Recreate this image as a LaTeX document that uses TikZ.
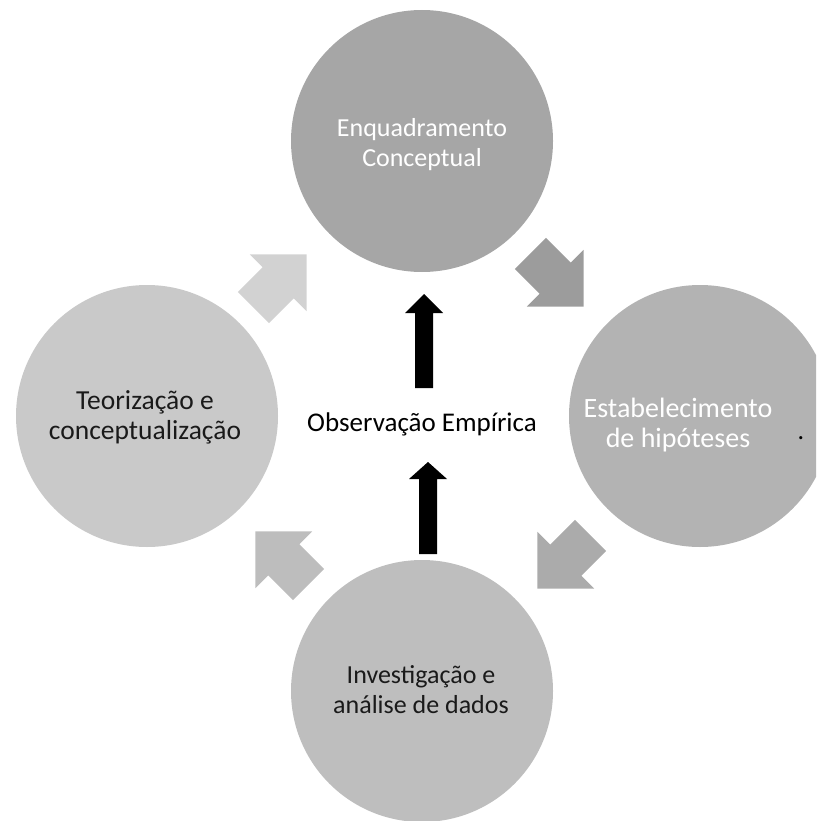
\documentclass[tikz,border=0pt]{standalone}
\usepackage{fontspec}
\setmainfont{Carlito}
\definecolor{cTop}{HTML}{A6A6A6}
\definecolor{cRight}{HTML}{B3B3B3}
\definecolor{cBottom}{HTML}{BEBEBE}
\definecolor{cLeft}{HTML}{C9C9C9}
\definecolor{aTR}{HTML}{9C9C9C}
\definecolor{aBR}{HTML}{ABABAB}
\definecolor{aBL}{HTML}{BDBDBD}
\definecolor{aTL}{HTML}{D2D2D2}
\definecolor{txt}{HTML}{1A1A1A}
\tikzset{
  phase/.style={circle, minimum size=262pt, inner sep=0pt, draw=none},
  lbl/.style={font=\fontsize{26}{30}\selectfont, align=center, inner sep=0pt},
}
\newcommand{\blockarrow}[4]{%
  \begin{scope}[shift={(#1)}, rotate=#2]
    \fill[#3] (-37.5,22) -- (-2.5,22) -- (-2.5,40) -- (37.5,0) -- (-2.5,-40) -- (-2.5,-22) -- (-37.5,-22) -- cycle;
  \end{scope}}
\begin{document}
\begin{tikzpicture}[x=1pt,y=-1pt]
\useasboundingbox (0,0) rectangle (816,821);
\begin{scope}
\clip (0,0) rectangle (816,821);
\node[phase, fill=cTop] (top) at (422,141) {};
\node[phase, fill=cRight] (right) at (700,416) {};
\node[phase, fill=cBottom] (bottom) at (422,691) {};
\node[phase, fill=cLeft] (left) at (147,416) {};
\end{scope}
\node[lbl, text=white] (ttop) at (422,145) {Enquadramento\\Conceptual};
\node[lbl, text=white, font=\fontsize{28}{30}\selectfont] (tright) at (678,425) {Estabelecimento\\de hipóteses};
\node[lbl, text=txt] (tbottom) at (421,690) {Investigação e\\análise de dados};
\node[lbl, text=txt, font=\fontsize{27.5}{30}\selectfont] (tleft) at (145,417) {Teorização e\\conceptualização};
\node[lbl, text=black, font=\fontsize{27}{30}\selectfont] (center) at (422,424) {Observação Empírica};
\node[lbl, text=black] (dot) at (801,438) {.};
\blockarrow{557,280}{-45}{aTR}{}
\blockarrow{564,562}{-135}{aBR}{}
\blockarrow{282,558}{135}{aBL}{}
\blockarrow{280,281}{45}{aTL}{}
\coordinate (up1) at (424,294);
\coordinate (up2) at (428,462);
\fill[black] (up1) -- ++(19,19) -- ++(-10,0) -- ++(0,75) -- ++(-18,0) -- ++(0,-75) -- ++(-10,0) -- cycle;
\fill[black] (up2) -- ++(19,17) -- ++(-10,0) -- ++(0,75) -- ++(-18,0) -- ++(0,-75) -- ++(-10,0) -- cycle;
\end{tikzpicture}
\end{document}
